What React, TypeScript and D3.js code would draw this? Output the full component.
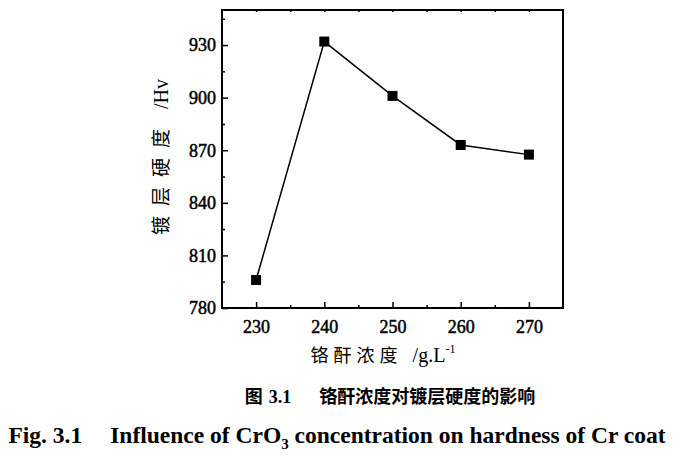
import React, { useEffect, useRef } from "react";
import * as d3 from "d3";

const concentration = [230, 240, 250, 260, 270];
const hardness = [796, 932, 901, 873, 867.5];
const xTicks = [230, 240, 250, 260, 270];
const yTicks = [780, 810, 840, 870, 900, 930];

export default function App() {
	const ref = useRef(null);

	useEffect(() => {
		const W = 675;
		const H = 461;
		const margin = { top: 10, right: 112, bottom: 153, left: 222 };
		const width = W - margin.left - margin.right;
		const height = H - margin.top - margin.bottom;

		const root = d3.select(ref.current);
		root.selectAll("*").remove();

		const svg = root
			.append("svg")
			.attr("width", W)
			.attr("height", H)
			.style("display", "block")
			.style("background", "#fff");

		const g = svg.append("g").attr("transform", `translate(${margin.left},${margin.top})`);

		const x = d3.scaleLinear().domain([225, 275]).range([0, width]);
		const y = d3.scaleLinear().domain([780, 950]).range([height, 0]);

		const serif = "'Liberation Serif', 'Times New Roman', serif";
		const cjk = "'Noto Sans CJK SC', sans-serif";

		// frame
		g.append("rect")
			.attr("width", width)
			.attr("height", height)
			.attr("fill", "none")
			.attr("stroke", "#000")
			.attr("stroke-width", 2);

		// bottom axis, inward ticks
		const xAxis = g.append("g").attr("transform", `translate(0,${height})`);
		xAxis.call(d3.axisBottom(x).tickValues(xTicks).tickSize(-6).tickPadding(12).tickFormat(d3.format("d")));
		xAxis
			.append("g")
			.call(d3.axisBottom(x).tickValues(d3.range(235, 275, 10)).tickSize(-3).tickFormat(() => ""));
		xAxis.selectAll(".domain").remove();

		const yAxis = g.append("g");
		yAxis.call(d3.axisLeft(y).tickValues(yTicks).tickSize(-6).tickPadding(6).tickFormat(d3.format("d")));
		yAxis.append("g").call(d3.axisLeft(y).tickValues(d3.range(795, 950, 30)).tickSize(-3).tickFormat(() => ""));
		yAxis.selectAll(".domain").remove();

		// faint top ticks
		const topAxis = g.append("g");
		topAxis.call(d3.axisTop(x).tickValues(d3.range(230, 275, 5)).tickSize(-2).tickFormat(() => ""));
		topAxis.selectAll(".domain").remove();

		g.selectAll(".tick line").attr("stroke", "#000").attr("stroke-width", 1.5);
		g.selectAll(".tick text")
			.attr("fill", "#000")
			.attr("stroke", "#000")
			.attr("stroke-width", 0.5)
			.style("font-family", serif)
			.style("font-size", "18px");

		// line + square markers
		const line = d3
			.line<number>()
			.x((d, i) => x(concentration[i]))
			.y((d) => y(d));

		g.append("path")
			.datum(hardness)
			.attr("d", line)
			.attr("fill", "none")
			.attr("stroke", "#000")
			.attr("stroke-width", 1.5);

		g.selectAll(".pt")
			.data(hardness)
			.enter()
			.append("rect")
			.attr("class", "pt")
			.attr("x", (d, i) => x(concentration[i]) - 5)
			.attr("y", (d) => y(d) - 5)
			.attr("width", 10)
			.attr("height", 10)
			.attr("fill", "#000");

		// y label
		const yl = svg
			.append("text")
			.attr("transform", `translate(168,${margin.top + height / 2 - 2}) rotate(-90)`)
			.attr("text-anchor", "middle")
			.attr("fill", "#000");
		yl.append("tspan").style("font-family", cjk).style("font-size", "19px").attr("letter-spacing", "10px").text("镀层硬度");
		yl.append("tspan").style("font-family", serif).style("font-size", "20px").attr("dx", 10).text("/Hv");

		// x label
		const xl = svg
			.append("text")
			.attr("x", 383)
			.attr("y", 362)
			.attr("text-anchor", "middle")
			.attr("fill", "#000");
		xl.append("tspan").style("font-family", cjk).style("font-size", "18px").attr("letter-spacing", "5px").text("铬酐浓度");
		xl.append("tspan").style("font-family", serif).style("font-size", "20px").attr("dx", 10).text("/g.L");
		xl.append("tspan").style("font-family", serif).style("font-size", "12px").attr("dy", -9).text("-1");

		// captions
		const c1 = svg
			.append("text")
			.attr("x", 390)
			.attr("y", 403)
			.attr("text-anchor", "middle")
			.attr("fill", "#000")
			.style("font-weight", "bold");
		c1.append("tspan").style("font-family", cjk).style("font-size", "18px").text("图");
		c1.append("tspan").style("font-family", serif).style("font-size", "18px").attr("dx", 6).text("3.1");
		c1.append("tspan").style("font-family", cjk).style("font-size", "18px").attr("dx", 28).text("铬酐浓度对镀层硬度的影响");

		const c2 = svg
			.append("text")
			.attr("x", 337)
			.attr("y", 443)
			.attr("text-anchor", "middle")
			.attr("fill", "#000")
			.style("font-family", serif)
			.style("font-weight", "bold")
			.style("font-size", "23.5px");
		c2.append("tspan").text("Fig. 3.1");
		c2.append("tspan").attr("dx", 28).text("Influence of CrO");
		c2.append("tspan").attr("dy", 6).style("font-size", "15px").text("3");
		c2.append("tspan").attr("dy", -6).text(" concentration on hardness of Cr coat");
	}, []);

	return <div ref={ref} style={{ position: "absolute", left: 0, top: 0 }} />;
}
